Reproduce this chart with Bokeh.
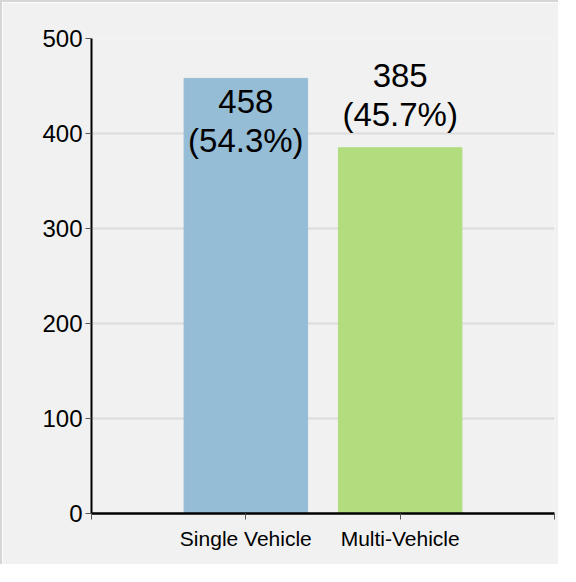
from bokeh.plotting import figure
from bokeh.models import ColumnDataSource, Range1d, FixedTicker
from bokeh.core.properties import value
from bokeh.embed import file_html
from bokeh.resources import INLINE

# ---- data ----
categories = ["Single Vehicle", "Multi-Vehicle"]
counts = [458, 385]
colors = ["#95bdd6", "#b1dd7f"]
y_ticks = [0, 100, 200, 300, 400, 500]

total = sum(counts)
xs = [i + 1 for i in range(len(categories))]
labels = [f"{c}\n({c / total * 100:.1f}%)" for c in counts]

FONT = "Liberation Sans"

p = figure(width=558, height=564, output_backend="svg", toolbar_location=None,
           x_range=Range1d(0, len(categories) + 1), y_range=Range1d(0, 500),
           min_border_left=89, min_border_right=6, min_border_top=36, min_border_bottom=53,
           styles={"border-top": "2px solid #d6d6d6", "border-left": "2px solid #d6d6d6"})
p.background_fill_color = "#f1f1f1"
p.border_fill_color = "#f1f1f1"
p.outline_line_color = None

src = ColumnDataSource(dict(x=xs, top=counts, color=colors, label=labels))
p.vbar(x="x", top="top", width=0.8, color="color", source=src)

# labels: first inside the bar top, second above the bar
in_src = ColumnDataSource(dict(x=xs[:1], y=counts[:1], label=labels[:1]))
out_src = ColumnDataSource(dict(x=xs[1:], y=counts[1:], label=labels[1:]))
common = dict(text="label", text_align="center", text_font=value(FONT),
              text_font_size="33px", text_color="#000000", text_line_height=1.04)
p.text(x="x", y="y", source=in_src, text_baseline="top", y_offset=5, **common)
p.text(x="x", y="y", source=out_src, text_baseline="bottom", y_offset=-15, **common)

# axes
p.yaxis.ticker = FixedTicker(ticks=y_ticks)
p.xaxis.ticker = FixedTicker(ticks=[0] + xs + [len(categories) + 1])
p.xaxis.major_label_overrides = {0: "", len(categories) + 1: "",
                                 **{x: c for x, c in zip(xs, categories)}}
for ax in (p.xaxis, p.yaxis):
    ax.axis_line_color = "#000000"
    ax.major_tick_line_color = "#555555"
    ax.major_tick_in = 0
    ax.major_tick_out = 6
    ax.minor_tick_line_color = None
    ax.major_label_text_font = FONT
    ax.major_label_text_color = "#000000"
p.yaxis.axis_line_width = 2
p.xaxis.axis_line_width = 2.5
p.yaxis.major_label_text_font_size = "24px"
p.xaxis.major_label_text_font_size = "21px"
p.yaxis.major_label_standoff = 3
p.xaxis.major_label_standoff = 7

p.xgrid.grid_line_color = None
p.ygrid.grid_line_color = "#dcdcdc"
p.ygrid.grid_line_width = 2

open("out.html", "w").write(file_html(p, INLINE))
